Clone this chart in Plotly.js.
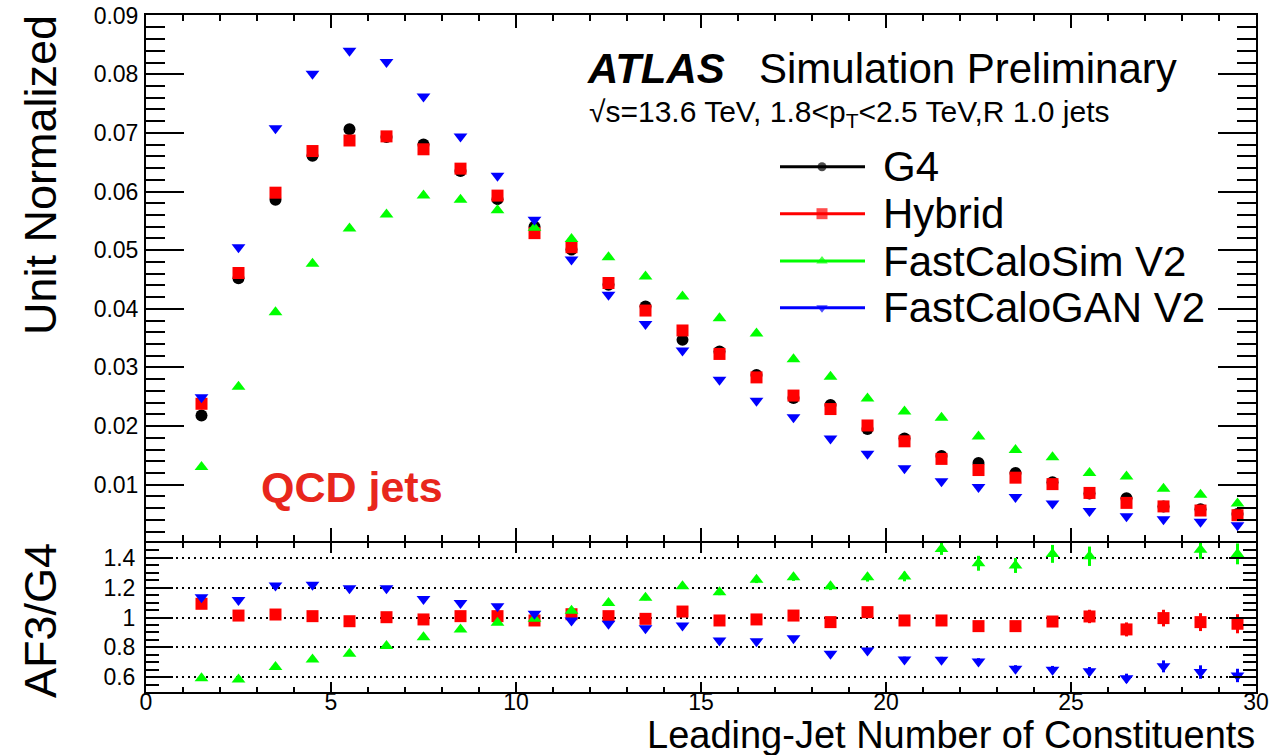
<!DOCTYPE html>
<html>
<head>
<meta charset="utf-8">
<script src="https://cdn.plot.ly/plotly-3.0.1.min.js"></script>
<style>html,body{margin:0;padding:0;background:#fff;}#chart{width:1286px;height:755px;}</style>
</head>
<body>
<div id="chart"></div>
<script>
// ---- data ----
const binCenters = [1.5,2.5,3.5,4.5,5.5,6.5,7.5,8.5,9.5,10.5,11.5,12.5,13.5,14.5,15.5,16.5,17.5,18.5,19.5,20.5,21.5,22.5,23.5,24.5,25.5,26.5,27.5,28.5,29.5];
const seriesNames = ["G4","Hybrid","FastCaloSim V2","FastCaloGAN V2"];
const g4Values = [0.0218,0.0452,0.0586,0.0661,0.0706,0.0693,0.0680,0.0635,0.0587,0.0540,0.0501,0.0441,0.0404,0.0347,0.0327,0.0287,0.0248,0.0236,0.0195,0.0179,0.0149,0.0137,0.0120,0.0104,0.0085,0.0077,0.0063,0.0058,0.0050];
const hybridValues = [0.0238,0.0461,0.0598,0.0669,0.0687,0.0694,0.0672,0.0639,0.0593,0.0529,0.0505,0.0444,0.0397,0.0363,0.0323,0.0283,0.0252,0.0229,0.0201,0.0174,0.0144,0.0125,0.0112,0.0101,0.0086,0.0069,0.0063,0.0056,0.0048];
const fcsValues = [0.0130,0.0267,0.0394,0.0477,0.0537,0.0561,0.0593,0.0586,0.0568,0.0538,0.0519,0.0488,0.0455,0.0421,0.0384,0.0358,0.0314,0.0284,0.0247,0.0225,0.0214,0.0182,0.0159,0.0147,0.0120,0.0114,0.0093,0.0083,0.0068];
const fcgValues = [0.0249,0.0505,0.0708,0.0801,0.0840,0.0821,0.0762,0.0694,0.0627,0.0552,0.0484,0.0424,0.0374,0.0329,0.0279,0.0243,0.0215,0.0179,0.0153,0.0128,0.0106,0.0096,0.0079,0.0068,0.0055,0.0046,0.0041,0.0037,0.0031];

const ratioHybrid = [1.092,1.013,1.020,1.009,0.975,1.002,0.987,1.009,1.009,0.980,1.022,1.009,0.991,1.040,0.980,0.987,1.013,0.969,1.036,0.980,0.980,0.942,0.942,0.973,1.007,0.920,0.996,0.969,0.958];
const ratioFCS = [0.593,0.584,0.667,0.718,0.756,0.808,0.868,0.920,0.964,0.991,1.045,1.098,1.132,1.210,1.170,1.253,1.270,1.210,1.270,1.275,1.460,1.364,1.349,1.427,1.411,1.570,1.560,1.454,1.427];
const ratioFCG = [1.136,1.118,1.215,1.219,1.197,1.197,1.125,1.098,1.076,1.025,0.980,0.958,0.928,0.946,0.846,0.841,0.861,0.756,0.779,0.718,0.716,0.705,0.656,0.649,0.640,0.593,0.672,0.634,0.611];
const ratioHybridErr = [0.010,0.010,0.010,0.010,0.010,0.010,0.010,0.010,0.010,0.010,0.011,0.012,0.012,0.014,0.015,0.017,0.019,0.020,0.022,0.025,0.028,0.030,0.033,0.036,0.045,0.047,0.056,0.060,0.064];
const ratioFCSErr = [0.008,0.008,0.008,0.008,0.009,0.010,0.010,0.011,0.012,0.013,0.014,0.015,0.016,0.018,0.020,0.022,0.024,0.026,0.029,0.032,0.040,0.050,0.050,0.060,0.065,0.060,0.060,0.060,0.070];
const ratioFCGErr = [0.010,0.010,0.010,0.010,0.010,0.010,0.010,0.010,0.010,0.010,0.010,0.010,0.011,0.012,0.013,0.014,0.015,0.016,0.017,0.019,0.020,0.022,0.024,0.026,0.028,0.030,0.040,0.045,0.045];

// ---- styling ----
const FONT = "Liberation Sans, Arial, Helvetica, sans-serif";
const colors = ["#000000","#ff0000","#00ff00","#0000ff"];
const symbols = ["circle","square","triangle-up","triangle-down"];
const mSizes = [12,12,12,12];
const legSizes = [9,11,10,10];

// layout helpers (pixel -> paper)
const L = 146, R = 1256, T = 15, B = 692;
const PX = p => (p - L) / (R - L);
const PY = p => (B - p) / (B - T);

const traces = [];
const topVals = [g4Values, hybridValues, fcsValues, fcgValues];
topVals.forEach((v, i) => {
  traces.push({
    type: "scatter", mode: "markers", x: binCenters, y: v,
    xaxis: "x", yaxis: "y", showlegend: false, hoverinfo: "skip",
    marker: {symbol: symbols[i], size: mSizes[i], color: colors[i], line: {width: 0}}
  });
});
const ratios = [[ratioHybrid, ratioHybridErr, 1], [ratioFCS, ratioFCSErr, 2], [ratioFCG, ratioFCGErr, 3]];
ratios.forEach(([v, e, i]) => {
  traces.push({
    type: "scatter", mode: "markers", x: binCenters, y: v,
    xaxis: "x2", yaxis: "y2", showlegend: false, hoverinfo: "skip",
    error_y: {type: "data", array: e, visible: true, color: colors[i], thickness: 3, width: 0},
    marker: {symbol: symbols[i], size: mSizes[i], color: colors[i], line: {width: 0}}
  });
});
// custom legend (ROOT-style)
const legY = [166.7, 213.7, 261, 307.7];
seriesNames.forEach((n, i) => {
  traces.push({
    type: "scatter", mode: "lines+markers",
    x: [PX(780), PX(822), PX(865)], y: [PY(legY[i]), PY(legY[i]), PY(legY[i])],
    xaxis: "x3", yaxis: "y3", showlegend: false, hoverinfo: "skip", cliponaxis: false,
    line: {color: colors[i], width: 3},
    marker: {symbol: symbols[i], size: [0, legSizes[i], 0], color: colors[i], line: {width: 0}}
  });
});

const axisCommon = {
  showline: true, linecolor: "#000", linewidth: 2, mirror: "allticks",
  ticks: "inside", tickcolor: "#000", tickwidth: 2,
  zeroline: false, showgrid: false,
  tickfont: {family: FONT, size: 23, color: "#000"}
};

const annotations = [
  {text: "Unit Normalized", x: PX(40), y: PY(175), textangle: -90, font: {size: 45}},
  {text: "AF3/G4", x: PX(40), y: PY(621), textangle: -90, font: {size: 45}},
  {text: "Leading-Jet Number of Constituents", x: PX(1257), y: PY(735), xanchor: "right", font: {size: 38}},
  {text: "<b><i>ATLAS</i></b>", x: PX(585), y: PY(68), xanchor: "left", font: {size: 42}},
  {text: "Simulation Preliminary", x: PX(757), y: PY(68), xanchor: "left", font: {size: 42}},
  {text: "√s=13.6 TeV, 1.8&lt;p<sub>T</sub>&lt;2.5 TeV,R 1.0 jets", x: PX(587), y: PY(113), xanchor: "left", font: {size: 30}},
  {text: "<b>QCD jets</b>", x: PX(259), y: PY(487), xanchor: "left", font: {size: 43, color: "#e8261c"}}
];
seriesNames.forEach((n, i) => {
  annotations.push({text: n, x: PX(881), y: PY(legY[i]), xanchor: "left", font: {size: 42}});
});
annotations.forEach(a => {
  a.xref = "paper"; a.yref = "paper"; a.showarrow = false;
  if (!a.xanchor) a.xanchor = "center";
  a.yanchor = "middle";
  a.font = Object.assign({family: FONT, color: "#000"}, a.font);
});

const layout = {
  width: 1286, height: 755,
  margin: {l: L, r: 1286 - R, t: T, b: 755 - B, pad: 0},
  paper_bgcolor: "#fff", plot_bgcolor: "rgba(0,0,0,0)",
  font: {family: FONT, color: "#000"},
  showlegend: false,
  xaxis: Object.assign({}, axisCommon, {
    domain: [0, 1], anchor: "y", range: [0, 30], dtick: 5, tick0: 0, ticklen: 13,
    showticklabels: false,
    minor: {dtick: 1, ticklen: 6, tickwidth: 2, tickcolor: "#000", ticks: "inside"}
  }),
  yaxis: Object.assign({}, axisCommon, {
    domain: [(B - 541) / (B - T), 1], anchor: "x", range: [0.0004, 0.0901],
    dtick: 0.01, tick0: 0, tickformat: ".2f", ticklen: 38, ticklabelstandoff: 1,
    minor: {dtick: 0.002, ticklen: 19, tickwidth: 2, tickcolor: "#000", ticks: "inside"}
  }),
  xaxis2: Object.assign({}, axisCommon, {
    domain: [0, 1], anchor: "y2", range: [0, 30], dtick: 5, tick0: 0, ticklen: 10,
    ticklabelstandoff: -12,
    minor: {dtick: 1, ticklen: 5, tickwidth: 2, tickcolor: "#000", ticks: "inside"}
  }),
  yaxis2: Object.assign({}, axisCommon, {
    domain: [0, (B - 543) / (B - T)], anchor: "x2", range: [0.5, 1.5],
    dtick: 0.2, tick0: 0.6, ticklen: 27, ticklabelstandoff: 4,
    showgrid: true, gridcolor: "#000", gridwidth: 2, griddash: "2px,4px",
    minor: {dtick: 0.05, ticklen: 13, tickwidth: 2, tickcolor: "#000", ticks: "inside", showgrid: false}
  }),
  xaxis3: {domain: [0, 1], anchor: "y3", range: [0, 1], visible: false, fixedrange: true},
  yaxis3: {domain: [0, 1], anchor: "x3", range: [0, 1], visible: false, fixedrange: true},
  annotations: annotations
};

Plotly.newPlot("chart", traces, layout, {staticPlot: true, displayModeBar: false});
</script>
</body>
</html>
